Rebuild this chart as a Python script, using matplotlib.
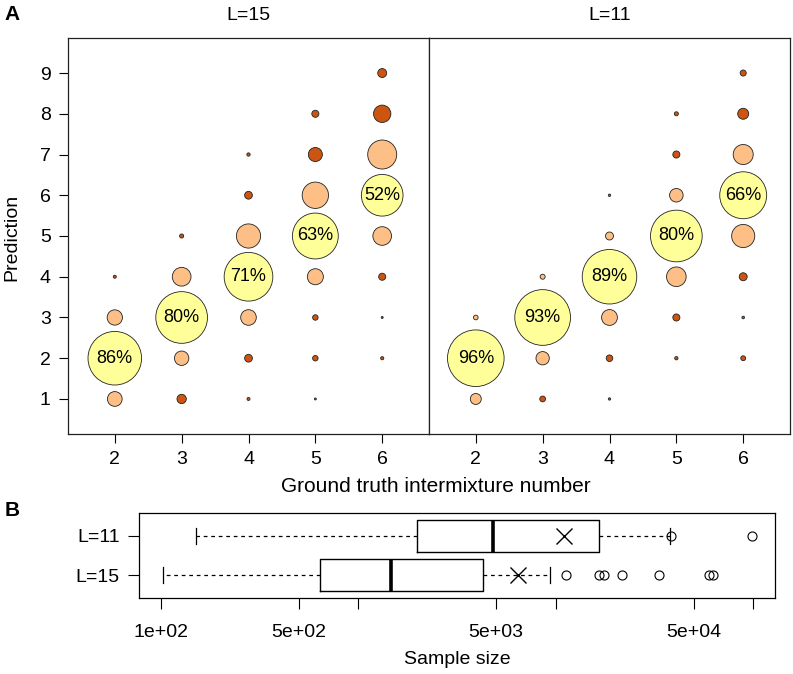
import matplotlib
matplotlib.use("Agg")
import matplotlib.pyplot as plt
import numpy as np

plt.rcParams['font.family'] = ['Liberation Sans', 'DejaVu Sans']
plt.rcParams['font.size'] = 14

# panel A: share of predictions (%) for each ground truth number
truth_l15 = [2, 2, 2, 2, 3, 3, 3, 3, 3, 4, 4, 4, 4, 4, 4, 4,
             5, 5, 5, 5, 5, 5, 5, 5, 6, 6, 6, 6, 6, 6, 6, 6]
pred_l15 = [1, 2, 3, 4, 1, 2, 3, 4, 5, 1, 2, 3, 4, 5, 6, 7,
            1, 2, 3, 4, 5, 6, 7, 8, 2, 3, 4, 5, 6, 7, 8, 9]
pct_l15 = [6.5, 86, 7, 0.27, 2.6, 6.2, 80, 10.5, 0.5, 0.27, 1.8, 7.3, 71, 17.5, 1.8, 0.33,
           0.12, 0.9, 0.9, 7.7, 63, 20.8, 5.9, 1.5, 0.3, 0.12, 1.5, 10.4, 52, 25.2, 9, 2.4]

truth_l11 = [2, 2, 2, 3, 3, 3, 3, 4, 4, 4, 4, 4, 4,
             5, 5, 5, 5, 5, 5, 5, 6, 6, 6, 6, 6, 6, 6, 6]
pred_l11 = [1, 2, 3, 1, 2, 3, 4, 1, 2, 3, 4, 5, 6,
            2, 3, 4, 5, 6, 7, 8, 2, 3, 4, 5, 6, 7, 8, 9]
pct_l11 = [3.6, 96, 0.65, 1.0, 5.3, 93, 0.75, 0.17, 1.3, 7.5, 89, 1.9, 0.17,
           0.33, 1.5, 11.5, 80, 5.5, 1.5, 0.48, 0.7, 0.2, 1.9, 16, 66, 12, 3.6, 1.1]

# panel B: sample size box stats
groups = ['L=15', 'L=11']
q1 = [641, 1984]
med = [1469, 4830]
q3 = [4285, 16600]
whislo = [102, 150]
whishi = [9380, 38000]
means = [6430, 11070]
fliers = [[11250, 16600, 17530, 21780, 33400, 59800, 62800],
          [38500, 99400]]

col_ok = '#FFFF99'
col_near = '#FDBF86'
col_far = '#CC5511'

fig = plt.figure(figsize=(7.93, 6.74), dpi=100)
W, H = 793, 674


def fax(x0, y0, x1, y1):
    return fig.add_axes([x0 / W, 1 - y1 / H, (x1 - x0) / W, (y1 - y0) / H])


axA1 = fax(68, 38, 429, 434)
axA2 = fax(429, 38, 790, 434)

for ax, t, p, v, title in [(axA1, truth_l15, pred_l15, pct_l15, 'L=15'),
                           (axA2, truth_l11, pred_l11, pct_l11, 'L=11')]:
    t = np.array(t)
    p = np.array(p)
    v = np.array(v)
    d = np.abs(t - p)
    cols = np.where(d == 0, col_ok, np.where(d == 1, col_near, col_far))
    ax.scatter(t, p, s=17.3 * v, c=cols, edgecolors='#222222', linewidths=0.6, zorder=2)
    for ti, pi, vi in zip(t, p, v):
        if ti == pi:
            ax.text(ti, pi, '%d%%' % round(vi), ha='center', va='center', fontsize=13, zorder=3)
    ax.set_xlim(1.3, 6.7)
    ax.set_ylim(0.14, 9.86)
    ax.set_xticks([2, 3, 4, 5, 6])
    ax.set_yticks(range(1, 10))
    ax.tick_params(direction='out', length=6.5, width=0.8, pad=6, labelsize=14)
    for s in ax.spines.values():
        s.set_linewidth(0.9)
        s.set_color('#222222')
    fig.text((ax.get_position().x0 + ax.get_position().x1) / 2, 1 - 15 / H, title,
             ha='center', va='center', fontsize=14)

axA2.tick_params(axis='y', left=False, labelleft=False)

fig.text(12 / W, 1 - 237 / H, 'Prediction', rotation=90, ha='center', va='center', fontsize=14)
fig.text(436 / W, 1 - 486 / H, 'Ground truth intermixture number', ha='center', va='center', fontsize=15)
fig.text(12 / W, 1 - 14 / H, 'A', ha='center', va='center', fontsize=15, fontweight='bold')
fig.text(12 / W, 1 - 510 / H, 'B', ha='center', va='center', fontsize=15, fontweight='bold')

# panel B
axB = fax(139, 513, 775, 598)
stats = []
for i in range(2):
    stats.append(dict(label=groups[i], q1=q1[i], med=med[i], q3=q3[i],
                      whislo=whislo[i], whishi=whishi[i], mean=means[i],
                      fliers=fliers[i]))
axB.bxp(stats, positions=[1, 2], widths=0.8, orientation='horizontal', showmeans=True,
        boxprops=dict(color='black', linewidth=1),
        whiskerprops=dict(color='black', linewidth=0.9, linestyle=(0, (3, 3))),
        capprops=dict(color='black', linewidth=0.9),
        medianprops=dict(color='black', linewidth=2.6, solid_capstyle='butt'),
        flierprops=dict(marker='o', markerfacecolor='none', markeredgecolor='black',
                        markersize=6.5, markeredgewidth=0.8),
        meanprops=dict(marker='x', markeredgecolor='black', markersize=11, markeredgewidth=1))
axB.set_xscale('log')
axB.set_xlim(77.4, 129400)
axB.set_ylim(0.42, 2.58)
axB.set_xticks([100, 500, 1000, 5000, 10000, 50000, 100000])
axB.set_xticklabels(['1e+02', '5e+02', '', '5e+03', '', '5e+04', ''])
axB.xaxis.set_minor_locator(matplotlib.ticker.NullLocator())
axB.set_yticks([1, 2])
axB.set_yticklabels(groups)
axB.tick_params(direction='out', length=8, width=0.8, labelsize=14)
axB.tick_params(axis='x', pad=11)
axB.tick_params(axis='y', pad=6)
for s in axB.spines.values():
    s.set_linewidth(0.9)
fig.text(457 / W, 1 - 660 / H, 'Sample size', ha='center', va='center', fontsize=14)

fig.savefig('out.png', dpi=100)
